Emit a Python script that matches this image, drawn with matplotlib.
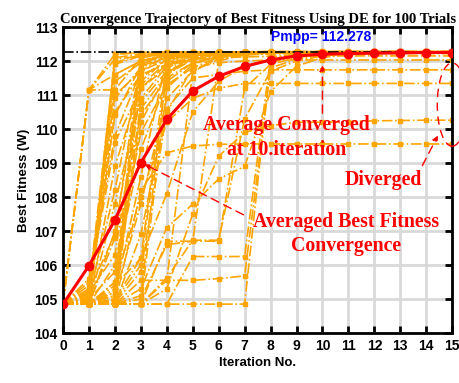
import numpy as np
import matplotlib.pyplot as plt
from matplotlib.patches import Ellipse

iterations = np.arange(16)

# average best fitness over the trials
mean_fit = [104.85, 105.98, 107.32, 109.01, 110.28, 111.12, 111.55, 111.84,
            112.03, 112.15, 112.20, 112.22, 112.23, 112.24, 112.25, 112.25]

pmpp = 112.278

# individual trials (best fitness per iteration), read approximately
trials = [
    [104.85, 111.15, 112.20, 112.24, 112.26, 112.27, 112.27, 112.27, 112.28, 112.28, 112.28, 112.28, 112.28, 112.28, 112.28, 112.28],
    [104.85, 111.15, 111.15, 112.10, 112.20, 112.25, 112.26, 112.27, 112.27, 112.27, 112.28, 112.28, 112.28, 112.28, 112.28, 112.28],
    [104.85, 111.15, 112.05, 112.15, 112.22, 112.25, 112.26, 112.27, 112.27, 112.27, 112.27, 112.27, 112.28, 112.28, 112.28, 112.28],
    [104.85, 111.15, 111.60, 112.00, 112.18, 112.22, 112.25, 112.26, 112.27, 112.27, 112.27, 112.27, 112.27, 112.27, 112.27, 112.27],
    [104.85, 104.85, 111.90, 112.15, 112.22, 112.25, 112.26, 112.27, 112.27, 112.27, 112.27, 112.27, 112.27, 112.27, 112.27, 112.27],
    [104.85, 105.30, 112.10, 112.20, 112.24, 112.26, 112.27, 112.27, 112.27, 112.27, 112.27, 112.27, 112.27, 112.27, 112.27, 112.27],
    [104.85, 104.95, 111.60, 112.00, 112.18, 112.24, 112.26, 112.26, 112.27, 112.27, 112.27, 112.27, 112.27, 112.27, 112.27, 112.27],
    [104.85, 104.85, 110.90, 111.80, 112.10, 112.20, 112.24, 112.25, 112.26, 112.26, 112.26, 112.26, 112.26, 112.26, 112.26, 112.26],
    [104.85, 105.60, 109.80, 111.70, 112.15, 112.22, 112.25, 112.26, 112.26, 112.27, 112.27, 112.27, 112.27, 112.27, 112.27, 112.27],
    [104.85, 104.90, 112.20, 112.25, 112.26, 112.27, 112.27, 112.27, 112.27, 112.27, 112.27, 112.27, 112.27, 112.27, 112.27, 112.27],
    [104.85, 105.05, 111.40, 111.95, 112.15, 112.21, 112.24, 112.25, 112.26, 112.26, 112.26, 112.26, 112.26, 112.26, 112.26, 112.26],
    [104.85, 104.85, 105.00, 111.95, 112.20, 112.24, 112.26, 112.27, 112.27, 112.27, 112.27, 112.27, 112.27, 112.27, 112.27, 112.27],
    [104.85, 104.90, 105.20, 112.10, 112.22, 112.25, 112.26, 112.26, 112.27, 112.27, 112.27, 112.27, 112.27, 112.27, 112.27, 112.27],
    [104.85, 104.85, 107.00, 111.50, 112.05, 112.20, 112.24, 112.25, 112.26, 112.26, 112.26, 112.26, 112.26, 112.26, 112.26, 112.26],
    [104.85, 105.10, 108.20, 111.90, 112.18, 112.23, 112.25, 112.26, 112.26, 112.26, 112.26, 112.26, 112.26, 112.26, 112.26, 112.26],
    [104.85, 104.85, 105.50, 112.20, 112.24, 112.26, 112.27, 112.27, 112.27, 112.27, 112.27, 112.27, 112.27, 112.27, 112.27, 112.27],
    [104.85, 105.20, 106.30, 111.20, 111.90, 112.15, 112.22, 112.25, 112.26, 112.26, 112.26, 112.26, 112.26, 112.26, 112.26, 112.26],
    [104.85, 104.85, 104.95, 110.80, 111.70, 112.05, 112.20, 112.24, 112.25, 112.25, 112.25, 112.25, 112.25, 112.25, 112.25, 112.25],
    [104.85, 104.85, 104.85, 105.10, 111.80, 112.15, 112.22, 112.25, 112.26, 112.26, 112.26, 112.26, 112.26, 112.26, 112.26, 112.26],
    [104.85, 104.85, 105.40, 106.20, 112.00, 112.20, 112.24, 112.25, 112.26, 112.26, 112.26, 112.26, 112.26, 112.26, 112.26, 112.26],
    [104.85, 104.85, 104.85, 110.60, 111.60, 112.10, 112.20, 112.24, 112.25, 112.25, 112.25, 112.25, 112.25, 112.25, 112.25, 112.25],
    [104.85, 105.00, 105.80, 109.40, 111.40, 111.95, 112.15, 112.22, 112.24, 112.25, 112.25, 112.25, 112.25, 112.25, 112.25, 112.25],
    [104.85, 104.85, 104.85, 104.85, 111.20, 111.90, 112.15, 112.22, 112.25, 112.25, 112.25, 112.25, 112.25, 112.25, 112.25, 112.25],
    [104.85, 104.85, 105.10, 107.80, 110.90, 111.70, 112.05, 112.18, 112.23, 112.25, 112.25, 112.25, 112.25, 112.25, 112.25, 112.25],
    [104.85, 104.85, 104.85, 105.55, 105.55, 111.70, 112.10, 112.20, 112.24, 112.25, 112.25, 112.25, 112.25, 112.25, 112.25, 112.25],
    [104.85, 104.85, 104.85, 104.85, 106.70, 106.70, 112.00, 112.20, 112.24, 112.25, 112.25, 112.25, 112.25, 112.25, 112.25, 112.25],
    [104.85, 104.85, 104.85, 104.85, 104.85, 106.25, 106.25, 106.25, 112.10, 112.20, 112.24, 112.25, 112.25, 112.25, 112.25, 112.25],
    [104.85, 104.85, 104.85, 104.85, 104.85, 104.85, 104.85, 104.85, 111.95, 112.15, 112.22, 112.24, 112.25, 112.25, 112.25, 112.25],
    [104.85, 104.85, 104.85, 104.85, 105.55, 105.55, 105.60, 105.68, 111.80, 112.05, 112.18, 112.22, 112.24, 112.24, 112.24, 112.24],
    [104.85, 104.85, 104.85, 105.00, 106.60, 106.70, 106.70, 111.20, 111.90, 112.10, 112.20, 112.23, 112.24, 112.24, 112.24, 112.24],
    [104.85, 104.85, 104.85, 105.30, 107.10, 107.79, 108.53, 108.90, 111.10, 111.85, 112.10, 112.20, 112.23, 112.24, 112.24, 112.24],
    [104.85, 104.85, 105.00, 106.20, 108.10, 110.50, 111.40, 111.85, 112.05, 112.15, 112.20, 112.22, 112.23, 112.23, 112.23, 112.23],
    [104.85, 104.85, 104.85, 104.85, 105.62, 106.73, 106.73, 110.30, 111.70, 112.00, 112.15, 112.21, 112.23, 112.23, 112.23, 112.23],
    [104.85, 105.40, 109.60, 111.20, 111.80, 112.05, 112.15, 112.20, 112.22, 112.23, 112.23, 112.23, 112.23, 112.23, 112.23, 112.23],
    [104.85, 104.85, 106.80, 110.40, 111.50, 111.95, 112.10, 112.18, 112.21, 112.22, 112.22, 112.22, 112.22, 112.22, 112.22, 112.22],
    [104.85, 104.95, 111.95, 112.18, 112.24, 112.26, 112.27, 112.27, 112.27, 112.27, 112.27, 112.27, 112.27, 112.27, 112.27, 112.27],
    [104.85, 105.15, 110.40, 111.85, 112.12, 112.22, 112.25, 112.26, 112.26, 112.26, 112.26, 112.26, 112.26, 112.26, 112.26, 112.26],
    [104.85, 104.85, 108.90, 111.30, 111.95, 112.18, 112.24, 112.25, 112.26, 112.26, 112.26, 112.26, 112.26, 112.26, 112.26, 112.26],
    [104.85, 104.90, 105.10, 111.40, 112.05, 112.20, 112.24, 112.25, 112.26, 112.26, 112.26, 112.26, 112.26, 112.26, 112.26, 112.26],
    [104.85, 104.85, 105.30, 110.20, 111.65, 112.10, 112.22, 112.25, 112.26, 112.26, 112.26, 112.26, 112.26, 112.26, 112.26, 112.26],
    [104.85, 105.25, 106.90, 112.00, 112.20, 112.25, 112.26, 112.26, 112.27, 112.27, 112.27, 112.27, 112.27, 112.27, 112.27, 112.27],
    [104.85, 104.85, 104.95, 106.00, 111.60, 112.05, 112.20, 112.24, 112.25, 112.25, 112.25, 112.25, 112.25, 112.25, 112.25, 112.25],
    [104.85, 104.85, 105.20, 108.60, 112.10, 112.22, 112.25, 112.26, 112.26, 112.26, 112.26, 112.26, 112.26, 112.26, 112.26, 112.26],
    [104.85, 104.90, 104.90, 105.80, 110.50, 111.80, 112.12, 112.22, 112.25, 112.25, 112.25, 112.25, 112.25, 112.25, 112.25, 112.25],
    [104.85, 105.50, 111.00, 111.70, 112.05, 112.20, 112.24, 112.25, 112.26, 112.26, 112.26, 112.26, 112.26, 112.26, 112.26, 112.26],
    [104.85, 104.85, 107.80, 110.90, 111.85, 112.15, 112.23, 112.25, 112.25, 112.25, 112.25, 112.25, 112.25, 112.25, 112.25, 112.25],
    # diverged trials
    [104.85, 104.85, 104.85, 108.20, 109.30, 109.50, 109.55, 109.56, 109.56, 109.56, 109.56, 109.56, 109.56, 109.56, 109.56, 109.56],
    [104.85, 104.85, 104.85, 104.85, 105.30, 107.50, 109.20, 109.90, 110.10, 110.20, 110.20, 110.22, 110.24, 110.25, 110.26, 110.26],
    [104.85, 104.85, 105.50, 108.00, 110.20, 110.90, 111.20, 111.34, 111.34, 111.34, 111.34, 111.34, 111.34, 111.34, 111.34, 111.34],
    [104.85, 104.85, 104.85, 106.90, 110.60, 111.50, 111.60, 111.70, 111.74, 111.74, 111.74, 111.74, 111.74, 111.74, 111.74, 111.74],
    [104.85, 104.85, 106.00, 109.90, 111.30, 111.80, 111.95, 112.00, 112.03, 112.03, 112.03, 112.03, 112.03, 112.03, 112.03, 112.03],
    [104.85, 105.00, 110.50, 111.60, 111.90, 112.05, 112.10, 112.12, 112.14, 112.15, 112.15, 112.15, 112.15, 112.15, 112.15, 112.15],
]

plt.rcParams['font.family'] = ['Liberation Sans', 'DejaVu Sans']
fig = plt.figure(figsize=(4.6, 3.83), dpi=100)
ax = fig.add_axes([0.137, 0.1305, 0.846, 0.799])

orange = '#FFA500'
for tr in trials:
    ax.plot(iterations, tr, color=orange, linestyle='-.', linewidth=1.2,
            marker='s', markersize=2.5, zorder=2)

ax.axhline(pmpp, color='black', linestyle='-.', linewidth=1.2, zorder=3)
ax.plot(iterations, mean_fit, color='red', linewidth=2.2, marker='o',
        markersize=6, zorder=4)

serif = 'Liberation Serif'
ax.text(9.93, 112.7, 'Pmpp= 112.278', color='#0000FF', fontsize=10,
        fontweight='bold', ha='center', va='center', zorder=6)
ax.text(8.6, 109.75, 'Average Converged\nat 10.iteration', color='red',
        fontsize=14.3, fontweight='bold', family=serif, ha='center',
        va='center', linespacing=1.3, zorder=6)
ax.text(12.35, 108.5, 'Diverged', color='red', fontsize=14.3,
        fontweight='bold', family=serif, ha='center', va='center', zorder=6)
ax.text(10.9, 106.91, 'Averaged Best Fitness\nConvergence', color='red',
        fontsize=14.3, fontweight='bold', family=serif, ha='center',
        va='center', linespacing=1.3, zorder=6)

arrow = dict(arrowstyle='-|>', color='red', linestyle=(0, (6, 4)),
             linewidth=1.0, mutation_scale=8)
ax.annotate('', xy=(10, 111.95), xytext=(10, 110.38), arrowprops=arrow, zorder=5)
ax.annotate('', xy=(14.5, 109.88), xytext=(13.8, 108.85), arrowprops=arrow, zorder=5)
ax.annotate('', xy=(3.05, 109.0), xytext=(7.05, 107.44), arrowprops=arrow, zorder=5)

ell = Ellipse((15.0, 110.72), 1.15, 2.45, fill=False, edgecolor='red',
              linestyle=(0, (6, 4)), linewidth=1.0, clip_on=False, zorder=5)
ax.add_patch(ell)

ax.set_xlim(0, 15)
ax.set_ylim(104, 113)
ax.set_xticks(np.arange(0, 16))
ax.set_yticks(np.arange(104, 114))
ax.grid(True, color='#d9d9d9', linewidth=2)
ax.set_axisbelow(True)
ax.tick_params(direction='in', top=True, right=True, length=5, width=2,
               labelsize=10, pad=4)
for lbl in ax.get_xticklabels() + ax.get_yticklabels():
    lbl.set_fontweight('bold')
for sp in ax.spines.values():
    sp.set_linewidth(2)

ax.set_xlabel('Iteration No.', fontsize=9.5, fontweight='bold', labelpad=3)
ax.set_ylabel('Best Fitness (W)', fontsize=9.5, fontweight='bold', labelpad=3)
ax.set_title('Convergence Trajectory of Best Fitness Using DE for 100 Trials',
             fontsize=10.5, fontweight='bold', family=serif, pad=3)

fig.savefig('out.png', dpi=100)
